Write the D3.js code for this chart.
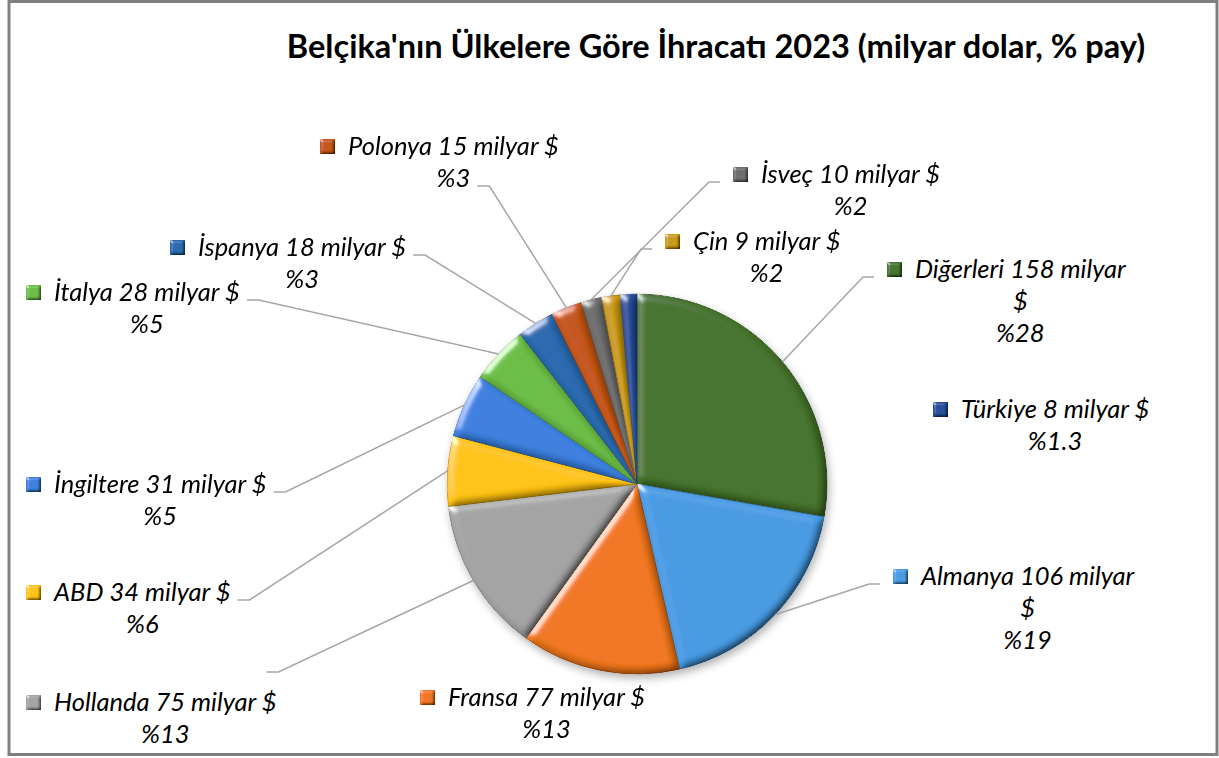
<!DOCTYPE html>
<html>
<head>
<meta charset="utf-8">
<title>Belçika'nın Ülkelere Göre İhracatı 2023</title>
<style>
  body {
    margin: 0px;
    background: white;
  }
  svg {
    display: block;
  }
  text {
    font-family: Lato, "Open Sans", sans-serif;
    fill: black;
  }
  .title {
    font-weight: bold;
    font-size: 32.5px;
  }
  .lbl {
    font-style: italic;
    font-size: 25.5px;
  }
  .leader {
    fill: none;
    stroke: #a6a6a6;
    stroke-width: 1.5;
  }
</style>
<script src="https://cdn.jsdelivr.net/npm/d3@7"></script>
</head>
<body>
<svg></svg>
<script>

// data, clockwise from 12 o'clock
const countries = ["Diğerleri", "Almanya", "Fransa", "Hollanda", "ABD", "İngiltere",
  "İtalya", "İspanya", "Polonya", "İsveç", "Çin", "Türkiye"];
const values = [158, 106, 77, 75, 34, 31, 28, 18, 15, 10, 9, 8];
const shares = ["28", "19", "13", "13", "6", "5", "5", "3", "3", "2", "2", "1.3"];
const colors = ["#44722a", "#469ae2", "#f0761a", "#a3a3a3", "#ffc20e", "#3a7fde",
  "#6bbd45", "#2868ad", "#c45512", "#6c6c6c", "#c99a10", "#244c9a"];
const title = "Belçika'nın Ülkelere Göre İhracatı 2023 (milyar dolar, % pay)";

// label boxes: marker left x, first baseline y, wrap width, leader anchor
const labelPos = [
  {x: 887, y: 278, wrap: 224, side: "left", line: 0, dx: 0, dy: 0},
  {x: 893, y: 585, wrap: 228, side: "left", line: 0, dx: 0, dy: 0},
  {x: 420, y: 706, wrap: 400, side: null},
  {x: 26, y: 711, wrap: 400, side: "right", line: 0, dx: -17, dy: -38},
  {x: 26, y: 601, wrap: 400, side: "right", line: 0, dx: 0, dy: 0},
  {x: 26, y: 493, wrap: 400, side: "right", line: 0, dx: 0, dy: 0},
  {x: 26, y: 301, wrap: 400, side: "right", line: 0, dx: 0, dy: 0},
  {x: 170, y: 256, wrap: 400, side: "right", line: 0, dx: 0, dy: 0},
  {x: 320, y: 155, wrap: 400, side: "right", line: 1, dx: 0, dy: 0},
  {x: 733, y: 183, wrap: 400, side: "left", line: 0, dx: 0, dy: 0},
  {x: 665, y: 250, wrap: 400, side: "left", line: 0, dx: 0, dy: 0},
  {x: 933, y: 418, wrap: 400, side: null}
];

const width = 1219, height = 758;
const cx = 637, cy = 484, r = 190;
const lineH = 32;

const svg = d3.select("svg")
    .attr("width", width)
    .attr("height", height);

const defs = svg.append("defs");

function bevel(id, blur, scale) {
  const f = defs.append("filter").attr("id", id)
      .attr("x", "-10%").attr("y", "-10%").attr("width", "120%").attr("height", "120%");
  f.append("feGaussianBlur").attr("in", "SourceAlpha").attr("stdDeviation", blur).attr("result", "blur");
  // diffuse: flat = 1, edges facing away get darker
  f.append("feDiffuseLighting").attr("in", "blur").attr("surfaceScale", scale)
      .attr("diffuseConstant", 1 / Math.sin(Math.PI / 4))
      .attr("lighting-color", "#ffffff").attr("result", "diff")
    .append("feDistantLight").attr("azimuth", 225).attr("elevation", 45);
  f.append("feSpecularLighting").attr("in", "blur").attr("surfaceScale", scale)
      .attr("specularConstant", 0.6).attr("specularExponent", 30)
      .attr("lighting-color", "#ffffff").attr("result", "spec")
    .append("feDistantLight").attr("azimuth", 225).attr("elevation", 30);
  f.append("feComposite").attr("in", "SourceGraphic").attr("in2", "diff")
      .attr("operator", "arithmetic").attr("k1", 1).attr("k2", 0).attr("k3", 0).attr("k4", 0)
      .attr("result", "lit");
  f.append("feComposite").attr("in", "spec").attr("in2", "SourceAlpha")
      .attr("operator", "in").attr("result", "specIn");
  f.append("feComposite").attr("in", "lit").attr("in2", "specIn")
      .attr("operator", "arithmetic").attr("k1", 0).attr("k2", 1).attr("k3", 1).attr("k4", 0)
      .attr("result", "sum");
  f.append("feComposite").attr("in", "sum").attr("in2", "SourceAlpha").attr("operator", "in");
}
bevel("bevel", 4, 4);
bevel("bevelSmall", 1.5, 2);

defs.append("filter").attr("id", "shadow")
    .attr("x", "-20%").attr("y", "-20%").attr("width", "140%").attr("height", "140%")
  .append("feDropShadow").attr("dx", 2).attr("dy", 4).attr("stdDeviation", 4)
    .attr("flood-color", "#000").attr("flood-opacity", 0.3);

// frame
svg.append("rect")
    .attr("x", 9).attr("y", 1.5)
    .attr("width", 1208).attr("height", 753)
    .attr("fill", "white")
    .attr("stroke", "#7f7f7f")
    .attr("stroke-width", 3);

svg.append("text")
    .attr("class", "title")
    .attr("x", 716)
    .attr("y", 58)
    .attr("text-anchor", "middle")
    .text(title);

const pieData = d3.pie().sort(null).value(d => d)(values);
const arc = d3.arc().innerRadius(0).outerRadius(r);

const pieG = svg.append("g")
    .attr("transform", `translate(${cx},${cy})`)
    .attr("filter", "url(#shadow)");

pieG.selectAll("path")
  .data(pieData)
  .join("path")
    .attr("d", arc)
    .attr("fill", (d, i) => colors[i])
    .attr("stroke", (d, i) => d3.color(colors[i]).darker(0.7))
    .attr("stroke-width", 1)
    .attr("filter", "url(#bevel)");

// labels
const labelG = svg.append("g");

pieData.forEach((d, i) => {
  const p = labelPos[i];
  const g = labelG.append("g");

  g.append("rect")
      .attr("x", p.x)
      .attr("y", p.y - 16)
      .attr("width", 15)
      .attr("height", 15)
      .attr("fill", colors[i])
      .attr("filter", "url(#bevelSmall)");

  // word wrap first line
  const tx = p.x + 28;
  const words = (countries[i] + " " + values[i] + " milyar $").split(" ");
  const lines = [];
  let cur = [];
  const probe = g.append("text").attr("class", "lbl");
  for (const w of words) {
    const test = cur.concat(w).join(" ");
    probe.text(test);
    if (cur.length && probe.node().getComputedTextLength() > p.wrap) {
      lines.push(cur.join(" "));
      cur = [w];
    } else {
      cur.push(w);
    }
  }
  lines.push(cur.join(" "));
  probe.remove();
  lines.push("%" + shares[i]);

  const first = g.append("text")
      .attr("class", "lbl")
      .attr("x", tx)
      .attr("y", p.y)
      .text(lines[0]);
  const firstW = first.node().getComputedTextLength();
  const mid = tx + firstW / 2;

  const widths = [firstW];
  lines.slice(1).forEach((t, k) => {
    const el = g.append("text")
        .attr("class", "lbl")
        .attr("x", mid)
        .attr("y", p.y + (k + 1) * lineH)
        .attr("text-anchor", "middle")
        .text(t);
    widths.push(el.node().getComputedTextLength());
  });

  if (!p.side) return;

  // leader line: short horizontal then to the slice edge
  const ay = p.y + p.line * lineH + p.dy - 1;
  let ax, hx;
  if (p.side === "right") {
    const rightEdge = p.line === 0 ? tx + widths[0] : mid + widths[p.line] / 2;
    ax = rightEdge + 7 + p.dx;
    hx = ax + 12;
  } else {
    ax = p.x - 13 + p.dx;
    hx = ax - 11;
  }
  const a = (d.startAngle + d.endAngle) / 2;
  const ex = cx + Math.sin(a) * r;
  const ey = cy - Math.cos(a) * r;

  labelG.insert("path", ":first-child")
      .attr("class", "leader")
      .attr("d", d3.line()([[ax, ay], [hx, ay], [ex, ey]]));
});

</script>
</body>
</html>
